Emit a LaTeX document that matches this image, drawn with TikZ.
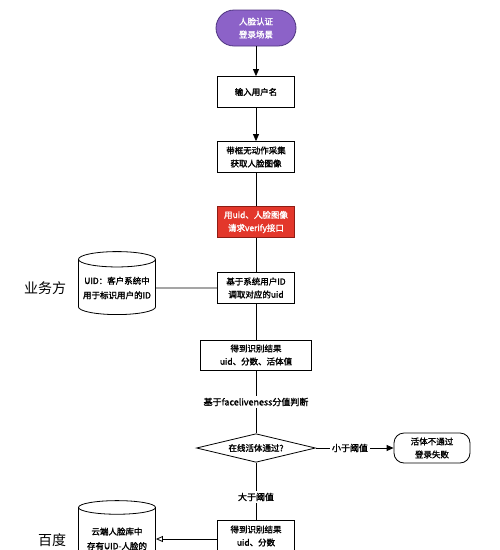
\documentclass[tikz,border=0pt]{standalone}
\usepackage{fontspec}
\setmainfont{Noto Sans CJK SC}
\newfontfamily\boxfont{Noto Sans CJK SC}[FakeBold=1.6]
\usetikzlibrary{shapes.geometric,arrows.meta}
\definecolor{startfill}{HTML}{8C62C8}
\definecolor{startline}{HTML}{4E3480}
\definecolor{verifyfill}{HTML}{E3372B}
\definecolor{verifyline}{HTML}{8E1C14}
\tikzset{
  box/.style={draw, thick, fill=white, minimum width=77pt, minimum height=31pt, inner sep=1pt, align=center, font=\boxfont\fontsize{8.5}{13}\selectfont},
  db/.style={draw, thick, fill=white, cylinder, shape border rotate=90, aspect=0.22, minimum width=77pt, inner sep=1pt, align=center, font=\boxfont\fontsize{8.5}{14.5}\selectfont},
  lbl/.style={inner sep=2pt, font=\boxfont\fontsize{9}{11}\selectfont},
  side/.style={font=\fontsize{14}{16}\selectfont},
  flow/.style={thick},
  step arrow/.style={thick, -{Triangle[length=7pt,width=6pt]}}
}
\begin{document}
\begin{tikzpicture}[x=1pt, y=-1pt]
\useasboundingbox (0,0) rectangle (500,550);
\node[box, rounded corners=18pt, fill=startfill, draw=startline, text=white, minimum width=80pt, minimum height=36pt] (s0) at (256, 28) {人脸认证\\登录场景};
\node[box] (s1) at (256, 92) {输入用户名};
\node[box] (s2) at (256, 157) {带框无动作采集\\获取人脸图像};
\node[box, fill=verifyfill, draw=verifyline, text=white] (s3) at (256, 222) {用uid、人脸图像\\请求verify接口};
\node[box] (s4) at (256, 288) {基于系统用户ID\\调取对应的uid};
\node[box, minimum width=111pt, minimum height=30pt] (s5) at (256, 355) {得到识别结果\\uid、分数、活体值};
\node[lbl] (l0) at (256, 402) {基于faceliveness分值判断};
\node[draw, thick, diamond, aspect=2.65, minimum width=119pt, inner sep=0pt, font=\boxfont\fontsize{8.5}{10}\selectfont] (d0) at (256, 448) {在线活体通过?};
\node[lbl] (l1) at (350, 448) {小于阈值};
\node[box, rounded corners=10pt, minimum width=76pt, minimum height=30pt] (f0) at (432, 448) {活体不通过\\登录失败};
\node[lbl] (l2) at (256, 497) {大于阈值};
\node[box, minimum height=32pt] (s6) at (256, 536) {得到识别结果\\uid、分数};
\node[db, minimum height=63pt] (c0) at (117, 288) {UID：客户系统中\\用于标识用户的ID};
\node[db, minimum height=82pt] (c1) at (117, 546) {云端人脸库中\\存有UID-人脸的\\映射关系数据};
\node[side] (t0) at (45, 288) {业务方};
\node[side] (t1) at (52, 540) {百度};
\draw[step arrow] (s0) -- (s1);
\draw[step arrow] (s1) -- (s2);
\draw[flow] (s2) -- (s3);
\draw[flow] (s3) -- (s4);
\draw[flow] (c0) -- (s4);
\draw[flow] (s4) -- (s5);
\draw[flow] (s5) -- (l0);
\draw[flow] (l0) -- (d0);
\draw[flow] (d0) -- (l1);
\draw[step arrow] (l1) -- (f0);
\draw[flow] (d0) -- (l2);
\draw[flow] (l2) -- (s6);
\draw[thick, -{Triangle[open, length=7pt, width=6pt]}] (s6.west |- 0,539) -- (c1.east |- 0,539);
\end{tikzpicture}
\end{document}
